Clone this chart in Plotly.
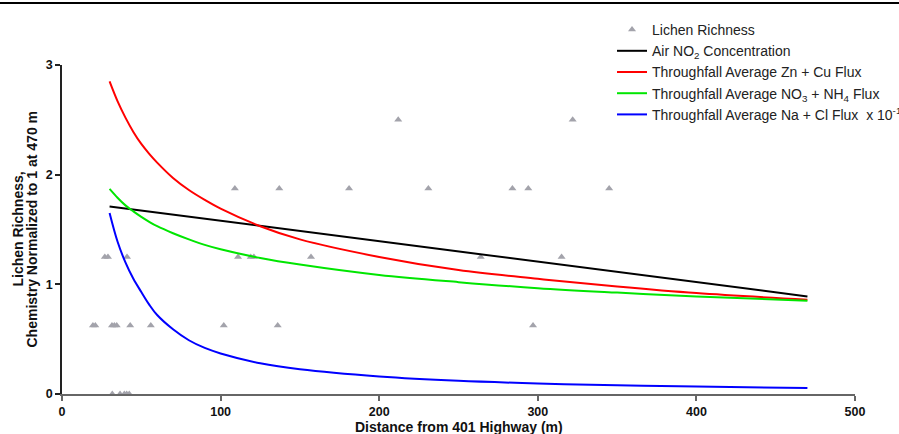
import plotly.graph_objects as go

# Lichen richness points (distance m, normalized richness)
lichen_x = [19.5, 21, 27, 29, 41, 31.5, 33, 34.5, 43, 56, 102, 111, 119, 121, 136, 157,
            109, 137, 181, 231, 284, 294, 345, 212, 322, 264, 315, 297,
            31.7, 36.6, 39.3, 40.8, 42.4]
lichen_y = [0.625, 0.625, 1.25, 1.25, 1.25, 0.625, 0.625, 0.625, 0.625, 0.625, 0.625, 1.25, 1.25, 1.25, 0.625, 1.25,
            1.875, 1.875, 1.875, 1.875, 1.875, 1.875, 1.875, 2.5, 2.5, 1.25, 1.25, 0.625,
            0, 0, 0, 0, 0]

# Fitted curves, values
curve_x = [30, 35, 40, 45, 50, 55, 60, 70, 80, 90, 100, 125, 150, 200, 250, 300, 350, 400, 470]
zncu = [2.85, 2.67, 2.52, 2.39, 2.28, 2.19, 2.11, 1.97, 1.86, 1.77, 1.69, 1.53, 1.41, 1.25, 1.13, 1.05, 0.98, 0.92, 0.86]
no3nh4 = [1.87, 1.79, 1.72, 1.665, 1.615, 1.57, 1.53, 1.466, 1.41, 1.36, 1.32, 1.24, 1.18, 1.085, 1.02, 0.965, 0.925, 0.89, 0.85]
nacl = [1.65, 1.39, 1.20, 1.05, 0.93, 0.815, 0.72, 0.59, 0.49, 0.42, 0.37, 0.28, 0.225, 0.16, 0.12, 0.096, 0.08, 0.068, 0.055]
no2_x = [30, 470]
no2 = [1.71, 0.89]

x_ticks = [0, 100, 200, 300, 400, 500]
y_ticks = [0, 1, 2, 3]

FONT = "Liberation Sans, Arial, sans-serif"

fig = go.Figure()
fig.add_trace(go.Scatter(x=lichen_x, y=lichen_y, mode="markers", name="Lichen Richness",
                         marker=dict(symbol="triangle-up", size=7, color="#a3a3ab"),
                         cliponaxis=False))
fig.add_trace(go.Scatter(x=no2_x, y=no2, mode="lines", name="Air NO<sub>2</sub> Concentration",
                         line=dict(color="black", width=2)))
fig.add_trace(go.Scatter(x=curve_x, y=zncu, mode="lines", name="Throughfall Average Zn + Cu Flux",
                         line=dict(color="#ff0000", width=2, shape="spline")))
fig.add_trace(go.Scatter(x=curve_x, y=no3nh4, mode="lines", name="Throughfall Average NO<sub>3</sub> + NH<sub>4</sub> Flux",
                         line=dict(color="#00e600", width=2, shape="spline")))
fig.add_trace(go.Scatter(x=curve_x, y=nacl, mode="lines", name="Throughfall Average Na + Cl Flux  x 10<sup>-1</sup>",
                         line=dict(color="#0000ff", width=2, shape="spline")))

fig.update_layout(
    width=899, height=434,
    margin=dict(l=62, r=44, t=65, b=40, autoexpand=False),
    paper_bgcolor="white", plot_bgcolor="white",
    font=dict(family=FONT, color="#111"),
    showlegend=True,
    legend=dict(x=0.6936, y=1.155, xanchor="left", yanchor="top",
                font=dict(size=14, color="#222", family=FONT), bgcolor="rgba(0,0,0,0)",
                tracegroupgap=0, itemwidth=30),
    shapes=[dict(type="line", xref="paper", yref="paper",
                 x0=-62/793, x1=837/793, y0=(394-3)/329, y1=(394-3)/329,
                 line=dict(color="black", width=2))],
    annotations=[
        dict(text="<b>Lichen Richness,</b>", xref="paper", yref="paper",
             x=(17-62)/793, y=0.5, textangle=-90, showarrow=False,
             xanchor="center", yanchor="middle", font=dict(size=14, family=FONT, color="#111")),
        dict(text="<b>Chemistry Normalized to 1 at 470 m</b>", xref="paper", yref="paper",
             x=(31-62)/793, y=0.5, textangle=-90, showarrow=False,
             xanchor="center", yanchor="middle", font=dict(size=14, family=FONT, color="#111")),
        dict(text="<b>Distance from 401 Highway (m)</b>", xref="paper", yref="paper",
             x=0.5, y=(394-427)/329, showarrow=False,
             xanchor="center", yanchor="middle", font=dict(size=14, family=FONT, color="#111")),
    ],
)
fig.update_xaxes(range=[0, 500], tickvals=x_ticks, ticks="outside", ticklen=5, automargin=False,
                 showline=True, linecolor="#666", linewidth=1.5, tickcolor="#666", tickwidth=1.5,
                 showgrid=False, zeroline=False,
                 tickfont=dict(size=12.5, family=FONT, color="#111", weight="bold"))
fig.update_yaxes(range=[0, 3], tickvals=y_ticks, ticks="outside", ticklen=5, automargin=False,
                 showline=True, linecolor="#222", linewidth=1.5, tickcolor="#222", tickwidth=1.5,
                 showgrid=False, zeroline=False,
                 tickfont=dict(size=12.5, family=FONT, color="#111", weight="bold"))

fig.write_html("out.html", config={"displayModeBar": False},
               post_script="document.body.style.margin='0';")
